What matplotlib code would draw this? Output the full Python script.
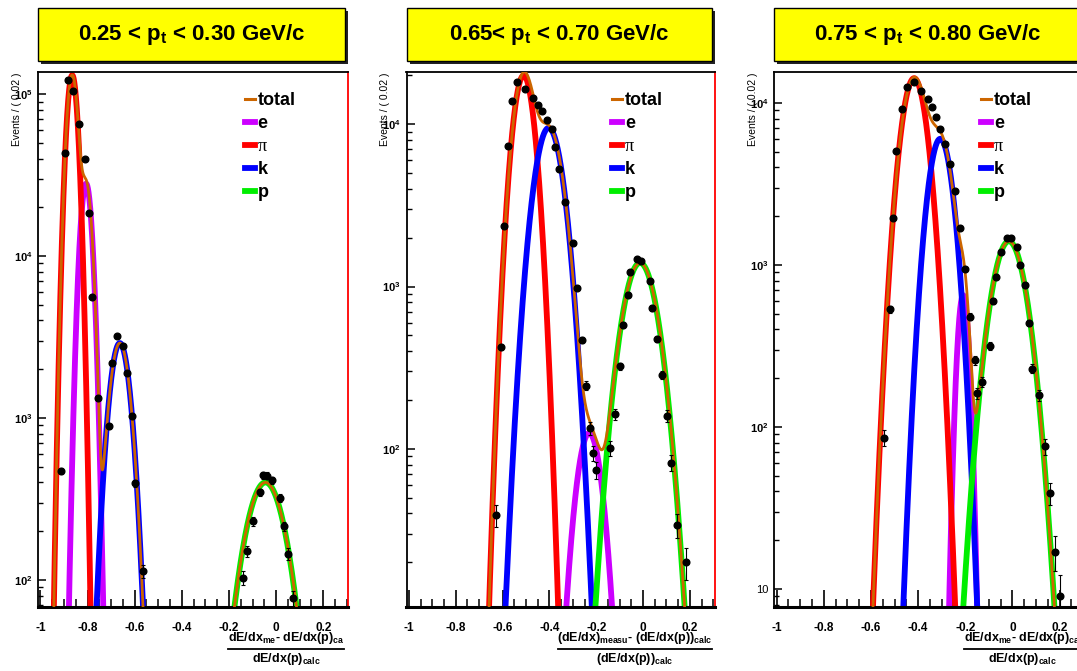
import numpy as np
import matplotlib
matplotlib.use('Agg')
import matplotlib.pyplot as plt
from matplotlib.lines import Line2D
from matplotlib.patches import Rectangle
from matplotlib.ticker import MultipleLocator, FuncFormatter, LogLocator, NullFormatter

plt.rcParams['font.family'] = ['Liberation Sans', 'DejaVu Sans']
plt.rcParams['mathtext.fontset'] = 'custom'
plt.rcParams['mathtext.rm'] = 'Liberation Sans'
plt.rcParams['mathtext.bf'] = 'Liberation Sans:bold'
plt.rcParams['mathtext.it'] = 'Liberation Sans:italic'

# --- panel titles / axis labels ---
titles = [r'0.25 < p$_{\mathbf{t}}$ < 0.30 GeV/c',
          r'0.65< p$_{\mathbf{t}}$ < 0.70 GeV/c',
          r'0.75 < p$_{\mathbf{t}}$ < 0.80 GeV/c']
num_labels = [r'dE/dx$_{\mathbf{me}}$- dE/dx(p)$_{\mathbf{ca}}$',
              r'(dE/dx)$_{\mathbf{measu}}$- (dE/dx(p))$_{\mathbf{calc}}$',
              r'dE/dx$_{\mathbf{me}}$- dE/dx(p)$_{\mathbf{ca}}$']
den_labels = [r'dE/dx(p)$_{\mathbf{calc}}$',
              r'(dE/dx(p))$_{\mathbf{calc}}$',
              r'dE/dx(p)$_{\mathbf{calc}}$']
ylims = [(68, 1.37e5), (10.6, 2.1e4), (7.74, 1.55e4)]

# --- measured points (bin centre, events) ---
x_pt1 = [-0.913, -0.896, -0.882, -0.861, -0.835, -0.811, -0.793, -0.779, -0.754, -0.708,
         -0.694, -0.676, -0.650, -0.633, -0.613, -0.599, -0.564,
         -0.139, -0.124, -0.100, -0.068, -0.054, -0.040, -0.018, 0.017, 0.035, 0.052, 0.071]
n_pt1 = [472, 4.3e4, 1.22e5, 1.04e5, 6.5e4, 4.0e4, 1.85e4, 5.6e3, 1.33e3, 888,
         2.19e3, 3.2e3, 2.8e3, 1.89e3, 1.03e3, 395, 113,
         103, 150, 231, 347, 443, 440, 413, 322, 214, 145, 77]

x_pt2 = [-0.630, -0.608, -0.592, -0.578, -0.559, -0.537, -0.502, -0.470, -0.450, -0.430,
         -0.410, -0.390, -0.375, -0.358, -0.335, -0.300, -0.280, -0.261, -0.243, -0.226,
         -0.214, -0.200, -0.141, -0.120, -0.099, -0.085, -0.066, -0.054, -0.028, -0.007,
         0.028, 0.040, 0.060, 0.082, 0.102, 0.120, 0.144, 0.184]
n_pt2 = [39, 425, 2.36e3, 7.4e3, 1.39e4, 1.81e4, 1.64e4, 1.46e4, 1.31e4, 1.21e4,
         1.06e4, 9.3e3, 7.2e3, 5.3e3, 3.3e3, 1.86e3, 981, 468, 245, 134,
         94, 74, 101, 164, 322, 582, 891, 1.23e3, 1.48e3, 1.43e3,
         1.08e3, 738, 475, 286, 160, 82, 34, 20]

x_pt3 = [-0.545, -0.520, -0.506, -0.492, -0.470, -0.449, -0.417, -0.386, -0.360, -0.343,
         -0.322, -0.308, -0.287, -0.266, -0.244, -0.223, -0.200, -0.180, -0.160, -0.150,
         -0.128, -0.096, -0.082, -0.068, -0.050, -0.025, -0.004, 0.021, 0.031, 0.052,
         0.069, 0.083, 0.111, 0.137, 0.158, 0.182, 0.200]
n_pt3 = [86, 531, 1.96e3, 5.06e3, 9.1e3, 1.26e4, 1.35e4, 1.19e4, 1.05e4, 9.4e3,
         8.2e3, 6.9e3, 5.6e3, 4.2e3, 2.87e3, 1.7e3, 945, 480, 258, 161,
         190, 315, 600, 844, 1.2e3, 1.46e3, 1.46e3, 1.29e3, 995, 750,
         439, 229, 157, 76, 39, 17, 9.1]

# --- fitted gaussian components per panel: (amplitude, mean, sigma) ---
e_fit = [(2.8e4, -0.806, 0.021), (125, -0.230, 0.044), (650, -0.209, 0.020)]
pi_fit = [(1.31e5, -0.865, 0.020), (2.0e4, -0.510, 0.038), (1.42e4, -0.417, 0.045)]
k_fit = [(2.9e3, -0.663, 0.036), (9.5e3, -0.403, 0.050), (6.0e3, -0.306, 0.043)]
p_fit = [(400, -0.045, 0.070), (1.40e3, -0.013, 0.061), (1.40e3, -0.015, 0.060)]

points = [(x_pt1, n_pt1), (x_pt2, n_pt2), (x_pt3, n_pt3)]
comp_names = ['e', 'π', 'k', 'p']
comp_fits = [e_fit, pi_fit, k_fit, p_fit]
comp_colors = ['#cc00ff', '#ff0000', '#0000ff', '#00ee00']
total_color = '#cc6600'


def gauss(x, amp, mean, sigma):
    return amp * np.exp(-0.5 * ((x - mean) / sigma) ** 2)


def log_label(v, pos):
    e = int(round(np.log10(v)))
    if e == 1:
        return '10'
    return r'$\mathbf{10^{%d}}$' % e


def x_label(v, pos):
    v = round(v, 2)
    if v == 0:
        return '0'
    return '%g' % v


W, H = 1077, 671
fig = plt.figure(figsize=(W / 100, H / 100), dpi=100)

# pixel layout: (left, width)
panel_px = [(38, 310), (406.5, 308), (774.3, 310)]
top_px, bot_px = 72, 607

xgrid = np.linspace(-1.01, 0.305, 2000)

for i, (left, width) in enumerate(panel_px):
    ax = fig.add_axes([left / W, (H - bot_px) / H, width / W, (bot_px - top_px) / H])
    ax.set_yscale('log')
    ax.set_xlim(-1.01, 0.305)
    ax.set_ylim(*ylims[i])

    total = np.zeros_like(xgrid)
    for name, fits, col in zip(comp_names, comp_fits, comp_colors):
        yv = gauss(xgrid, *fits[i])
        total += yv
        ax.plot(xgrid, np.maximum(yv, 1e-3), color=col, lw=4.2, solid_capstyle='butt', zorder=2)
    ax.plot(xgrid, np.maximum(total, 1e-3), color=total_color, lw=2.0, zorder=3)

    xs, ns = points[i]
    ns = np.array(ns, dtype=float)
    ax.errorbar(xs, ns, yerr=np.sqrt(ns), fmt='o', color='black', ms=4.8,
                elinewidth=0.8, capsize=1.5, capthick=0.8, zorder=5)

    # axes styling
    for s in ['left', 'top']:
        ax.spines[s].set_linewidth(1.3)
    ax.spines['bottom'].set_linewidth(2.2)
    ax.spines['right'].set_color('red')
    ax.spines['right'].set_linewidth(1.3)

    ax.xaxis.set_major_locator(MultipleLocator(0.2))
    ax.xaxis.set_minor_locator(MultipleLocator(0.05))
    ax.xaxis.set_major_formatter(FuncFormatter(x_label))
    ax.yaxis.set_major_locator(LogLocator(base=10))
    ax.yaxis.set_minor_locator(LogLocator(base=10, subs=np.arange(2, 10)))
    ax.yaxis.set_major_formatter(FuncFormatter(log_label))
    ax.yaxis.set_minor_formatter(NullFormatter())
    ax.tick_params(axis='x', which='major', direction='in', length=12, width=1.2,
                   labelsize=8.5, pad=11)
    ax.tick_params(axis='x', which='minor', direction='in', length=6, width=1.1)
    ax.tick_params(axis='y', which='major', direction='in', length=6, width=1.1,
                   labelsize=8, pad=4)
    ax.tick_params(axis='y', which='minor', direction='in', length=3.5, width=1)
    for lab in ax.get_xticklabels():
        lab.set_fontweight('bold')

    ax.text(-21 / width, 1.0, 'Events / ( 0.02 )', transform=ax.transAxes,
            rotation=90, ha='center', va='top', fontsize=7.5)

    # fraction axis title at lower right
    if i == 1:
        nx, l0, l1 = 0.742, 0.492, 0.992
    else:
        nx, l0, l1 = 0.80, 0.613, 0.987
    hpx = bot_px - top_px
    ax.text(nx, -31 / hpx, num_labels[i], transform=ax.transAxes, ha='center',
            va='center', fontsize=9, fontweight='bold')
    ax.plot([l0, l1], [-42 / hpx, -42 / hpx], transform=ax.transAxes, color='black',
            lw=1.3, clip_on=False)
    ax.text(nx, -52 / hpx, den_labels[i], transform=ax.transAxes, ha='center',
            va='center', fontsize=9, fontweight='bold')

    # legend
    handles = [Line2D([], [], color=total_color, lw=2.2)]
    handles += [Line2D([], [], color=c, lw=4.2) for c in comp_colors]
    leg = ax.legend(handles, ['total'] + comp_names, loc='upper left',
                    bbox_to_anchor=(0.668, 0.962), frameon=False, fontsize=13,
                    handlelength=0.55, handletextpad=0.15, labelspacing=0.33,
                    borderpad=0, borderaxespad=0)
    for t in leg.get_texts():
        t.set_fontweight('bold')
    pi_text = leg.get_texts()[2]
    pi_text.set_fontweight('normal')
    pi_text.set_family(['Liberation Serif', 'DejaVu Serif'])

    # yellow title box with shadow
    bx0, bw = left, width - 3
    by0, bh = 8, 53
    fig.add_artist(Rectangle(((bx0 + 3) / W, (H - by0 - bh - 3) / H), bw / W, bh / H,
                             transform=fig.transFigure, facecolor='#222222',
                             edgecolor='none', zorder=1))
    fig.add_artist(Rectangle((bx0 / W, (H - by0 - bh) / H), bw / W, bh / H,
                             transform=fig.transFigure, facecolor='#ffff00',
                             edgecolor='black', lw=1, zorder=2))
    fig.text((bx0 + bw / 2) / W, (H - by0 - bh / 2) / H, titles[i], ha='center',
             va='center', fontsize=16, fontweight='bold', zorder=3)

fig.savefig('out.png', dpi=100)
